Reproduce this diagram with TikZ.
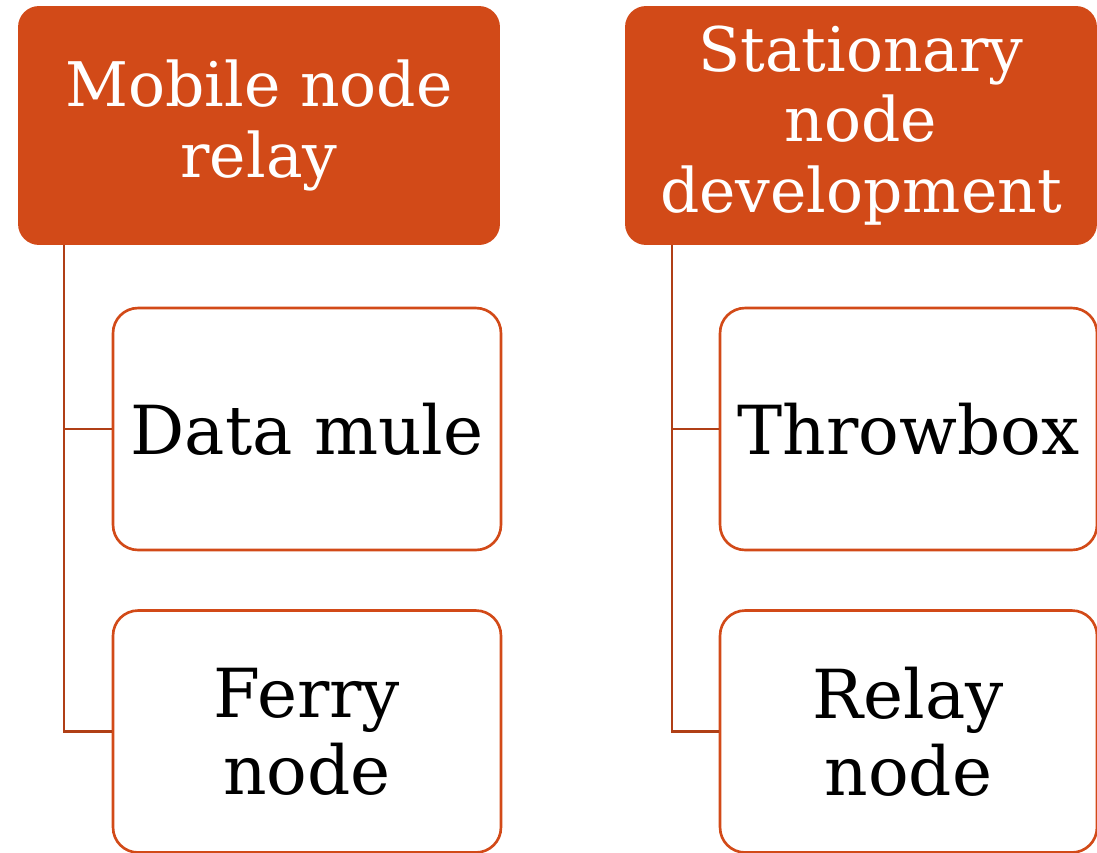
\documentclass[tikz,border=0pt]{standalone}
\usepackage{fontspec}
\newfontfamily\slabfont{DejaVu Serif}
\definecolor{rust}{HTML}{D24A18}
\definecolor{rustdark}{HTML}{B03F16}
\usetikzlibrary{positioning}

\begin{document}
\begin{tikzpicture}
[x=0.02cm, y=-0.02cm,
    headbox/.style={rectangle, rounded corners=0.42cm, fill=rust, draw=none,
    text=white, align=center, minimum height=4.78cm,
    font=\slabfont\fontsize{35}{40}\selectfont},
    leafbox/.style={rectangle, rounded corners=0.5cm, fill=white, draw=rust,
    line width=1.5pt, text=black, align=center, minimum height=4.84cm,
    minimum width=7.76cm, font=\slabfont\fontsize{38.5}{44}\selectfont},
    link/.style={draw=rustdark, line width=1.4pt},
    ]
    \clip (0,0) rectangle (1097,852);

    % left column
    \node[headbox, minimum width=9.64cm] (mobile) at (259,125.5) {Mobile node\\relay};
    \node[leafbox] (mule) at (307,429) {Data mule};
    \node[leafbox] (ferry) at (307,731.5) {Ferry\\node};

    % right column
    \node[headbox, minimum width=9.44cm] (stationary) at (861,125.5) {Stationary\\node\\development};
    \node[leafbox, minimum width=7.54cm] (throwbox) at (908.5,429) {Throwbox};
    \node[leafbox, minimum width=7.54cm] (relay) at (908.5,731.5) {Relay\\node};

    \coordinate (mobilefoot) at ([xshift=-3.9cm]mobile.south);
    \coordinate (stationaryfoot) at ([xshift=-3.78cm]stationary.south);
    \draw[link] (mobilefoot) |- (mule.west);
    \draw[link] (mobilefoot) |- (ferry.west);
    \draw[link] (stationaryfoot) |- (throwbox.west);
    \draw[link] (stationaryfoot) |- (relay.west);
\end{tikzpicture}
\end{document}
